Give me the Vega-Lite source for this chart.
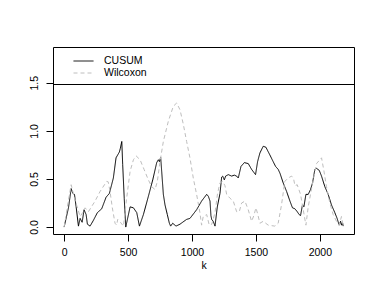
{
  "$schema": "https://vega.github.io/schema/vega-lite/v6.json",
  "width": 301,
  "height": 187,
  "autosize": {"type": "none"},
  "padding": {"left": 53, "top": 47, "right": 28, "bottom": 60},
  "background": "white",
  "config": {
    "view": {"stroke": "black", "strokeWidth": 1},
    "font": "Liberation Sans",
    "axis": {
      "domain": false, "grid": false, "tickColor": "black", "tickSize": 7,
      "labelColor": "black", "labelFont": "Liberation Sans", "labelFontSize": 10.5,
      "titleFont": "Liberation Sans", "titleFontSize": 10.5, "titleFontWeight": "normal", "titleColor": "black"
    },
    "legend": {
      "orient": "none", "legendX": 25, "legendY": 8.5, "padding": 0,
      "symbolType": "M-2,0H2", "symbolSize": 100, "symbolStrokeWidth": 1,
      "labelOffset": 15, "rowPadding": 1, "labelFont": "Liberation Sans",
      "labelFontSize": 10.5, "labelColor": "black"
    }
  },
  "data": {"values": [
    {"k":0,"v":0,"s":"CUSUM"},{"k":34,"v":0.2,"s":"CUSUM"},{"k":55,"v":0.4,"s":"CUSUM"},{"k":68,"v":0.35,"s":"CUSUM"},{"k":81,"v":0.34,"s":"CUSUM"},{"k":94,"v":0.21,"s":"CUSUM"},{"k":112,"v":0.01,"s":"CUSUM"},{"k":125,"v":0.09,"s":"CUSUM"},{"k":141,"v":0.05,"s":"CUSUM"},{"k":156,"v":0.18,"s":"CUSUM"},{"k":172,"v":0.13,"s":"CUSUM"},{"k":182,"v":0.03,"s":"CUSUM"},{"k":203,"v":0.01,"s":"CUSUM"},{"k":229,"v":0.07,"s":"CUSUM"},{"k":260,"v":0.15,"s":"CUSUM"},{"k":294,"v":0.19,"s":"CUSUM"},{"k":328,"v":0.31,"s":"CUSUM"},{"k":354,"v":0.35,"s":"CUSUM"},{"k":385,"v":0.51,"s":"CUSUM"},{"k":406,"v":0.72,"s":"CUSUM"},{"k":432,"v":0.78,"s":"CUSUM"},{"k":440,"v":0.82,"s":"CUSUM"},{"k":451,"v":0.89,"s":"CUSUM"},{"k":458,"v":0.65,"s":"CUSUM"},{"k":470,"v":0.3,"s":"CUSUM"},{"k":482,"v":0.0,"s":"CUSUM"},{"k":516,"v":0.21,"s":"CUSUM"},{"k":542,"v":0.2,"s":"CUSUM"},{"k":568,"v":0.15,"s":"CUSUM"},{"k":589,"v":0.01,"s":"CUSUM"},{"k":620,"v":0.13,"s":"CUSUM"},{"k":659,"v":0.32,"s":"CUSUM"},{"k":693,"v":0.49,"s":"CUSUM"},{"k":724,"v":0.67,"s":"CUSUM"},{"k":737,"v":0.7,"s":"CUSUM"},{"k":745,"v":0.68,"s":"CUSUM"},{"k":755,"v":0.725,"s":"CUSUM"},{"k":763,"v":0.58,"s":"CUSUM"},{"k":776,"v":0.34,"s":"CUSUM"},{"k":789,"v":0.23,"s":"CUSUM"},{"k":807,"v":0.13,"s":"CUSUM"},{"k":823,"v":0.04,"s":"CUSUM"},{"k":833,"v":0.01,"s":"CUSUM"},{"k":849,"v":0.04,"s":"CUSUM"},{"k":875,"v":0.01,"s":"CUSUM"},{"k":906,"v":0.03,"s":"CUSUM"},{"k":958,"v":0.08,"s":"CUSUM"},{"k":984,"v":0.09,"s":"CUSUM"},{"k":1036,"v":0.18,"s":"CUSUM"},{"k":1075,"v":0.27,"s":"CUSUM"},{"k":1115,"v":0.34,"s":"CUSUM"},{"k":1128,"v":0.32,"s":"CUSUM"},{"k":1141,"v":0.27,"s":"CUSUM"},{"k":1148,"v":0.12,"s":"CUSUM"},{"k":1154,"v":0.08,"s":"CUSUM"},{"k":1166,"v":0.06,"s":"CUSUM"},{"k":1180,"v":0.01,"s":"CUSUM"},{"k":1198,"v":0.21,"s":"CUSUM"},{"k":1219,"v":0.35,"s":"CUSUM"},{"k":1232,"v":0.52,"s":"CUSUM"},{"k":1240,"v":0.53,"s":"CUSUM"},{"k":1253,"v":0.49,"s":"CUSUM"},{"k":1263,"v":0.53,"s":"CUSUM"},{"k":1284,"v":0.545,"s":"CUSUM"},{"k":1310,"v":0.53,"s":"CUSUM"},{"k":1331,"v":0.54,"s":"CUSUM"},{"k":1349,"v":0.53,"s":"CUSUM"},{"k":1362,"v":0.51,"s":"CUSUM"},{"k":1383,"v":0.63,"s":"CUSUM"},{"k":1409,"v":0.67,"s":"CUSUM"},{"k":1440,"v":0.66,"s":"CUSUM"},{"k":1466,"v":0.6,"s":"CUSUM"},{"k":1497,"v":0.545,"s":"CUSUM"},{"k":1513,"v":0.68,"s":"CUSUM"},{"k":1531,"v":0.77,"s":"CUSUM"},{"k":1557,"v":0.84,"s":"CUSUM"},{"k":1578,"v":0.83,"s":"CUSUM"},{"k":1609,"v":0.75,"s":"CUSUM"},{"k":1635,"v":0.68,"s":"CUSUM"},{"k":1654,"v":0.63,"s":"CUSUM"},{"k":1674,"v":0.6,"s":"CUSUM"},{"k":1688,"v":0.56,"s":"CUSUM"},{"k":1713,"v":0.46,"s":"CUSUM"},{"k":1740,"v":0.37,"s":"CUSUM"},{"k":1766,"v":0.27,"s":"CUSUM"},{"k":1786,"v":0.2,"s":"CUSUM"},{"k":1805,"v":0.19,"s":"CUSUM"},{"k":1823,"v":0.16,"s":"CUSUM"},{"k":1838,"v":0.13,"s":"CUSUM"},{"k":1849,"v":0.12,"s":"CUSUM"},{"k":1864,"v":0.23,"s":"CUSUM"},{"k":1875,"v":0.21,"s":"CUSUM"},{"k":1891,"v":0.34,"s":"CUSUM"},{"k":1909,"v":0.34,"s":"CUSUM"},{"k":1927,"v":0.39,"s":"CUSUM"},{"k":1943,"v":0.46,"s":"CUSUM"},{"k":1961,"v":0.6,"s":"CUSUM"},{"k":1974,"v":0.61,"s":"CUSUM"},{"k":1995,"v":0.59,"s":"CUSUM"},{"k":2013,"v":0.53,"s":"CUSUM"},{"k":2039,"v":0.42,"s":"CUSUM"},{"k":2065,"v":0.34,"s":"CUSUM"},{"k":2091,"v":0.23,"s":"CUSUM"},{"k":2117,"v":0.15,"s":"CUSUM"},{"k":2135,"v":0.09,"s":"CUSUM"},{"k":2151,"v":0.02,"s":"CUSUM"},{"k":2162,"v":0.06,"s":"CUSUM"},{"k":2169,"v":0.02,"s":"CUSUM"},{"k":2177,"v":0.05,"s":"CUSUM"},{"k":2182,"v":0.01,"s":"CUSUM"},
    {"k":0,"v":0,"s":"Wilcoxon"},{"k":30,"v":0.25,"s":"Wilcoxon"},{"k":55,"v":0.44,"s":"Wilcoxon"},{"k":86,"v":0.28,"s":"Wilcoxon"},{"k":125,"v":0.11,"s":"Wilcoxon"},{"k":145,"v":0.15,"s":"Wilcoxon"},{"k":164,"v":0.2,"s":"Wilcoxon"},{"k":190,"v":0.16,"s":"Wilcoxon"},{"k":242,"v":0.27,"s":"Wilcoxon"},{"k":281,"v":0.37,"s":"Wilcoxon"},{"k":333,"v":0.475,"s":"Wilcoxon"},{"k":345,"v":0.47,"s":"Wilcoxon"},{"k":359,"v":0.37,"s":"Wilcoxon"},{"k":377,"v":0.2,"s":"Wilcoxon"},{"k":398,"v":0.04,"s":"Wilcoxon"},{"k":411,"v":0.02,"s":"Wilcoxon"},{"k":419,"v":0.08,"s":"Wilcoxon"},{"k":440,"v":0.05,"s":"Wilcoxon"},{"k":464,"v":0.01,"s":"Wilcoxon"},{"k":489,"v":0.3,"s":"Wilcoxon"},{"k":516,"v":0.58,"s":"Wilcoxon"},{"k":542,"v":0.7,"s":"Wilcoxon"},{"k":563,"v":0.74,"s":"Wilcoxon"},{"k":594,"v":0.7,"s":"Wilcoxon"},{"k":625,"v":0.6,"s":"Wilcoxon"},{"k":659,"v":0.49,"s":"Wilcoxon"},{"k":685,"v":0.42,"s":"Wilcoxon"},{"k":711,"v":0.39,"s":"Wilcoxon"},{"k":729,"v":0.475,"s":"Wilcoxon"},{"k":750,"v":0.68,"s":"Wilcoxon"},{"k":776,"v":0.89,"s":"Wilcoxon"},{"k":815,"v":1.1,"s":"Wilcoxon"},{"k":854,"v":1.256,"s":"Wilcoxon"},{"k":880,"v":1.29,"s":"Wilcoxon"},{"k":906,"v":1.22,"s":"Wilcoxon"},{"k":932,"v":1.07,"s":"Wilcoxon"},{"k":958,"v":0.89,"s":"Wilcoxon"},{"k":984,"v":0.72,"s":"Wilcoxon"},{"k":1010,"v":0.51,"s":"Wilcoxon"},{"k":1036,"v":0.34,"s":"Wilcoxon"},{"k":1062,"v":0.15,"s":"Wilcoxon"},{"k":1075,"v":0.02,"s":"Wilcoxon"},{"k":1088,"v":0.11,"s":"Wilcoxon"},{"k":1115,"v":0.13,"s":"Wilcoxon"},{"k":1135,"v":0.02,"s":"Wilcoxon"},{"k":1155,"v":0.03,"s":"Wilcoxon"},{"k":1180,"v":0.15,"s":"Wilcoxon"},{"k":1200,"v":0.35,"s":"Wilcoxon"},{"k":1219,"v":0.46,"s":"Wilcoxon"},{"k":1240,"v":0.475,"s":"Wilcoxon"},{"k":1258,"v":0.43,"s":"Wilcoxon"},{"k":1271,"v":0.34,"s":"Wilcoxon"},{"k":1297,"v":0.3,"s":"Wilcoxon"},{"k":1323,"v":0.27,"s":"Wilcoxon"},{"k":1349,"v":0.16,"s":"Wilcoxon"},{"k":1370,"v":0.16,"s":"Wilcoxon"},{"k":1388,"v":0.25,"s":"Wilcoxon"},{"k":1414,"v":0.27,"s":"Wilcoxon"},{"k":1440,"v":0.18,"s":"Wilcoxon"},{"k":1466,"v":0.06,"s":"Wilcoxon"},{"k":1484,"v":0.12,"s":"Wilcoxon"},{"k":1500,"v":0.2,"s":"Wilcoxon"},{"k":1513,"v":0.14,"s":"Wilcoxon"},{"k":1531,"v":0.04,"s":"Wilcoxon"},{"k":1557,"v":0.06,"s":"Wilcoxon"},{"k":1596,"v":0.02,"s":"Wilcoxon"},{"k":1648,"v":0.01,"s":"Wilcoxon"},{"k":1674,"v":0.04,"s":"Wilcoxon"},{"k":1700,"v":0.23,"s":"Wilcoxon"},{"k":1726,"v":0.475,"s":"Wilcoxon"},{"k":1752,"v":0.51,"s":"Wilcoxon"},{"k":1779,"v":0.53,"s":"Wilcoxon"},{"k":1795,"v":0.5,"s":"Wilcoxon"},{"k":1805,"v":0.43,"s":"Wilcoxon"},{"k":1823,"v":0.44,"s":"Wilcoxon"},{"k":1849,"v":0.34,"s":"Wilcoxon"},{"k":1870,"v":0.18,"s":"Wilcoxon"},{"k":1891,"v":0.02,"s":"Wilcoxon"},{"k":1909,"v":0.21,"s":"Wilcoxon"},{"k":1935,"v":0.4,"s":"Wilcoxon"},{"k":1974,"v":0.66,"s":"Wilcoxon"},{"k":2013,"v":0.72,"s":"Wilcoxon"},{"k":2031,"v":0.59,"s":"Wilcoxon"},{"k":2052,"v":0.42,"s":"Wilcoxon"},{"k":2078,"v":0.25,"s":"Wilcoxon"},{"k":2104,"v":0.13,"s":"Wilcoxon"},{"k":2130,"v":0.06,"s":"Wilcoxon"},{"k":2151,"v":0.02,"s":"Wilcoxon"},{"k":2169,"v":0.11,"s":"Wilcoxon"},{"k":2182,"v":0.01,"s":"Wilcoxon"}
  ]},
  "layer": [
    {
      "mark": {"type": "line", "strokeWidth": 1},
      "encoding": {
        "x": {"field": "k", "type": "quantitative", "title": "k",
              "scale": {"domain": [-87, 2267], "nice": false, "zero": false},
              "axis": {"values": [0, 500, 1000, 1500, 2000], "format": "d", "labelPadding": 6, "titlePadding": 3, "titleColor": "black"}},
        "y": {"field": "v", "type": "quantitative", "title": null,
              "scale": {"domain": [-0.072, 1.872], "nice": false, "zero": false},
              "axis": {"values": [0, 0.5, 1, 1.5], "format": ".1f", "labelAngle": -90,
                       "labelAlign": "center", "labelBaseline": "alphabetic", "labelPadding": 9}},
        "color": {"field": "s", "type": "nominal", "title": null,
                  "scale": {"domain": ["CUSUM", "Wilcoxon"], "range": ["black", "#BEBEBE"]}},
        "strokeDash": {"field": "s", "type": "nominal", "title": null,
                  "scale": {"domain": ["CUSUM", "Wilcoxon"], "range": [[1, 0], [4, 3]]}}
      }
    },
    {
      "mark": {"type": "rule", "color": "black", "strokeWidth": 1},
      "encoding": {"y": {"datum": 1.482}}
    }
  ]
}
